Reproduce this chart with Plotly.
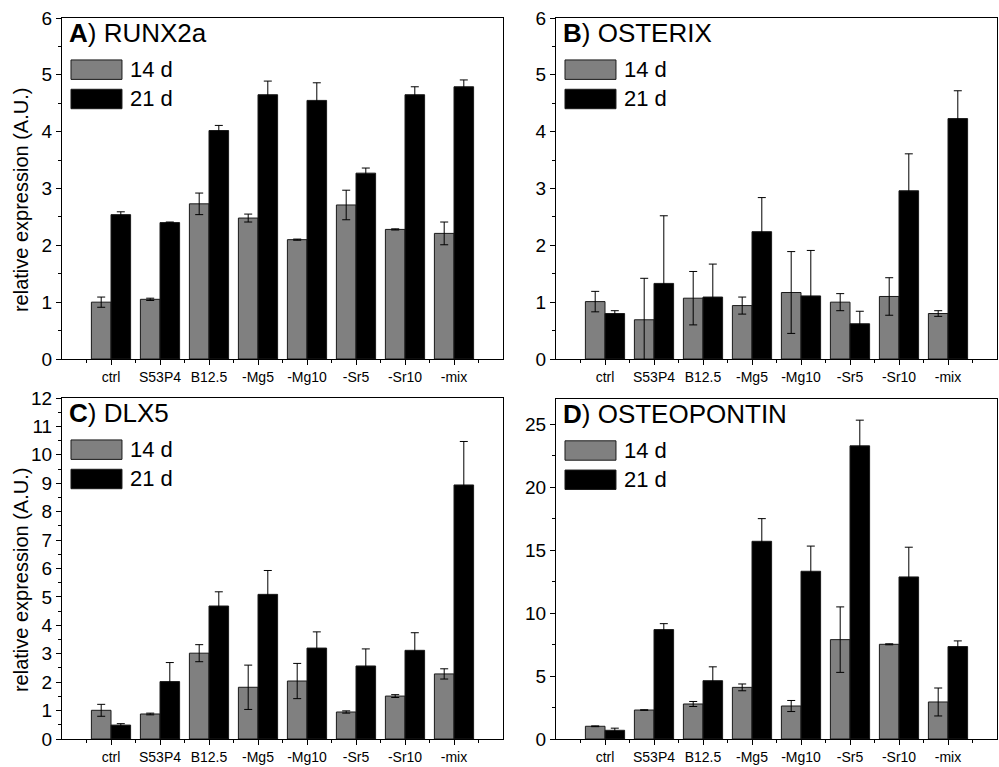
import plotly.graph_objects as go

categories = ["ctrl", "S53P4", "B12.5", "-Mg5", "-Mg10", "-Sr5", "-Sr10", "-mix"]
series_names = ["14 d", "21 d"]

# A) RUNX2a
runx2a_14d = [1.00, 1.05, 2.73, 2.48, 2.10, 2.71, 2.28, 2.21]
runx2a_14d_err = [0.09, 0.02, 0.19, 0.07, 0.01, 0.26, 0.01, 0.20]
runx2a_21d = [2.54, 2.40, 4.02, 4.65, 4.55, 3.27, 4.65, 4.79]
runx2a_21d_err = [0.05, 0.01, 0.09, 0.24, 0.31, 0.09, 0.14, 0.12]

# B) OSTERIX
osterix_14d = [1.01, 0.69, 1.07, 0.94, 1.17, 1.00, 1.10, 0.80]
osterix_14d_err = [0.18, 0.73, 0.47, 0.15, 0.72, 0.15, 0.33, 0.05]
osterix_21d = [0.80, 1.33, 1.09, 2.24, 1.11, 0.62, 2.96, 4.23]
osterix_21d_err = [0.05, 1.19, 0.58, 0.60, 0.80, 0.22, 0.65, 0.49]

# C) DLX5
dlx5_14d = [1.01, 0.88, 3.02, 1.82, 2.04, 0.95, 1.51, 2.29]
dlx5_14d_err = [0.21, 0.03, 0.30, 0.78, 0.62, 0.04, 0.05, 0.18]
dlx5_21d = [0.49, 2.02, 4.68, 5.09, 3.20, 2.57, 3.12, 8.94]
dlx5_21d_err = [0.05, 0.67, 0.50, 0.84, 0.57, 0.60, 0.62, 1.53]

# D) OSTEOPONTIN
opn_14d = [1.01, 2.30, 2.78, 4.10, 2.62, 7.89, 7.52, 2.94]
opn_14d_err = [0.03, 0.02, 0.20, 0.27, 0.44, 2.60, 0.04, 1.11]
opn_21d = [0.69, 8.69, 4.63, 15.70, 13.32, 23.28, 12.87, 7.34]
opn_21d_err = [0.17, 0.47, 1.10, 1.80, 2.00, 2.04, 2.36, 0.45]

GRAY = "#808080"
BLACK = "#000000"
FONT = "Liberation Sans, Arial, sans-serif"

panels = [
    dict(letter="A", gene="RUNX2a", s14=runx2a_14d, e14=runx2a_14d_err,
         s21=runx2a_21d, e21=runx2a_21d_err, ymax=6, dtick=1,
         xdom=[62 / 999, 503 / 999], ydom=[1 - 359 / 767, 1 - 18 / 767], ytitle=True),
    dict(letter="B", gene="OSTERIX", s14=osterix_14d, e14=osterix_14d_err,
         s21=osterix_21d, e21=osterix_21d_err, ymax=6, dtick=1,
         xdom=[556 / 999, 997 / 999], ydom=[1 - 359 / 767, 1 - 18 / 767], ytitle=False),
    dict(letter="C", gene="DLX5", s14=dlx5_14d, e14=dlx5_14d_err,
         s21=dlx5_21d, e21=dlx5_21d_err, ymax=12, dtick=1,
         xdom=[62 / 999, 503 / 999], ydom=[1 - 739 / 767, 1 - 398 / 767], ytitle=True),
    dict(letter="D", gene="OSTEOPONTIN", s14=opn_14d, e14=opn_14d_err,
         s21=opn_21d, e21=opn_21d_err, ymax=27, dtick=5,
         xdom=[556 / 999, 997 / 999], ydom=[1 - 739 / 767, 1 - 399 / 767], ytitle=False),
]

xpos = list(range(len(categories)))

fig = go.Figure()
shapes = []
annotations = []

for i, p in enumerate(panels):
    sfx = "" if i == 0 else str(i + 1)
    xa, ya = "x" + sfx, "y" + sfx
    for name, vals, errs, color in [
        (series_names[0], p["s14"], p["e14"], GRAY),
        (series_names[1], p["s21"], p["e21"], BLACK),
    ]:
        fig.add_trace(go.Bar(
            x=xpos, y=vals, name=name, xaxis=xa, yaxis=ya,
            offsetgroup=name, showlegend=False,
            marker=dict(color=color, line=dict(color="#1a1a1a", width=1)),
            error_y=dict(type="data", array=errs, visible=True,
                         color="#000000", thickness=1, width=4),
        ))

    axis_common = dict(showline=True, linecolor="#000000", linewidth=1, mirror=True,
                       showgrid=False, zeroline=False, ticks="outside",
                       tickcolor="#000000", tickwidth=1, automargin=False)
    fig.update_layout(**{
        "xaxis" + sfx: dict(
            axis_common, domain=p["xdom"], anchor=ya, range=[-1, 8],
            tickmode="array", tickvals=xpos, ticktext=categories, ticklen=5,
            tickfont=dict(family=FONT, size=14, color="#000000"),
            ticklabelstandoff=0,
            minor=dict(tickmode="array", tickvals=[k - 0.5 for k in range(len(categories) + 1)],
                       ticks="outside", ticklen=3, tickcolor="#000000", tickwidth=1),
        ),
        "yaxis" + sfx: dict(
            axis_common, domain=p["ydom"], anchor=xa, range=[0, p["ymax"]],
            tick0=0, dtick=p["dtick"], ticklen=5,
            tickfont=dict(family=FONT, size=19, color="#000000"),
            minor=dict(dtick=p["dtick"] / 2, tick0=0, ticks="outside", ticklen=3,
                       tickcolor="#000000", tickwidth=1),
        ),
    })

    xd, yd = xa + " domain", ya + " domain"
    # panel heading
    annotations.append(dict(
        xref=xd, yref=yd, x=0.012, y=0.955, xanchor="left", yanchor="middle",
        text="<b>%s</b>) %s" % (p["letter"], p["gene"]), showarrow=False,
        font=dict(family=FONT, size=26, color="#000000"),
    ))
    # legend swatches and labels
    for k, (name, color) in enumerate(zip(series_names, [GRAY, BLACK])):
        y_top = 0.877 - k * 0.086
        y_bot = y_top - 0.057
        shapes.append(dict(type="rect", xref=xd, yref=yd, x0=0.0204, x1=0.136,
                           y0=y_bot, y1=y_top, fillcolor=color,
                           line=dict(color="#1a1a1a", width=1)))
        annotations.append(dict(
            xref=xd, yref=yd, x=0.150, y=(y_top + y_bot) / 2, xanchor="left",
            yanchor="middle", text=name, showarrow=False,
            font=dict(family=FONT, size=22, color="#000000"),
        ))
    if p["ytitle"]:
        annotations.append(dict(
            xref="paper", yref=yd, x=21 / 999, y=0.466, xanchor="center", yanchor="middle",
            text="relative expression (A.U.)", textangle=-90, showarrow=False,
            font=dict(family=FONT, size=20, color="#000000"),
        ))

fig.update_layout(
    width=999, height=767,
    margin=dict(l=0, r=0, t=0, b=0, autoexpand=False),
    paper_bgcolor="#ffffff", plot_bgcolor="#ffffff",
    barmode="group", bargap=0.2, bargroupgap=0,
    showlegend=False,
    shapes=shapes, annotations=annotations,
    font=dict(family=FONT, color="#000000"),
)

fig.write_html("out.html")
